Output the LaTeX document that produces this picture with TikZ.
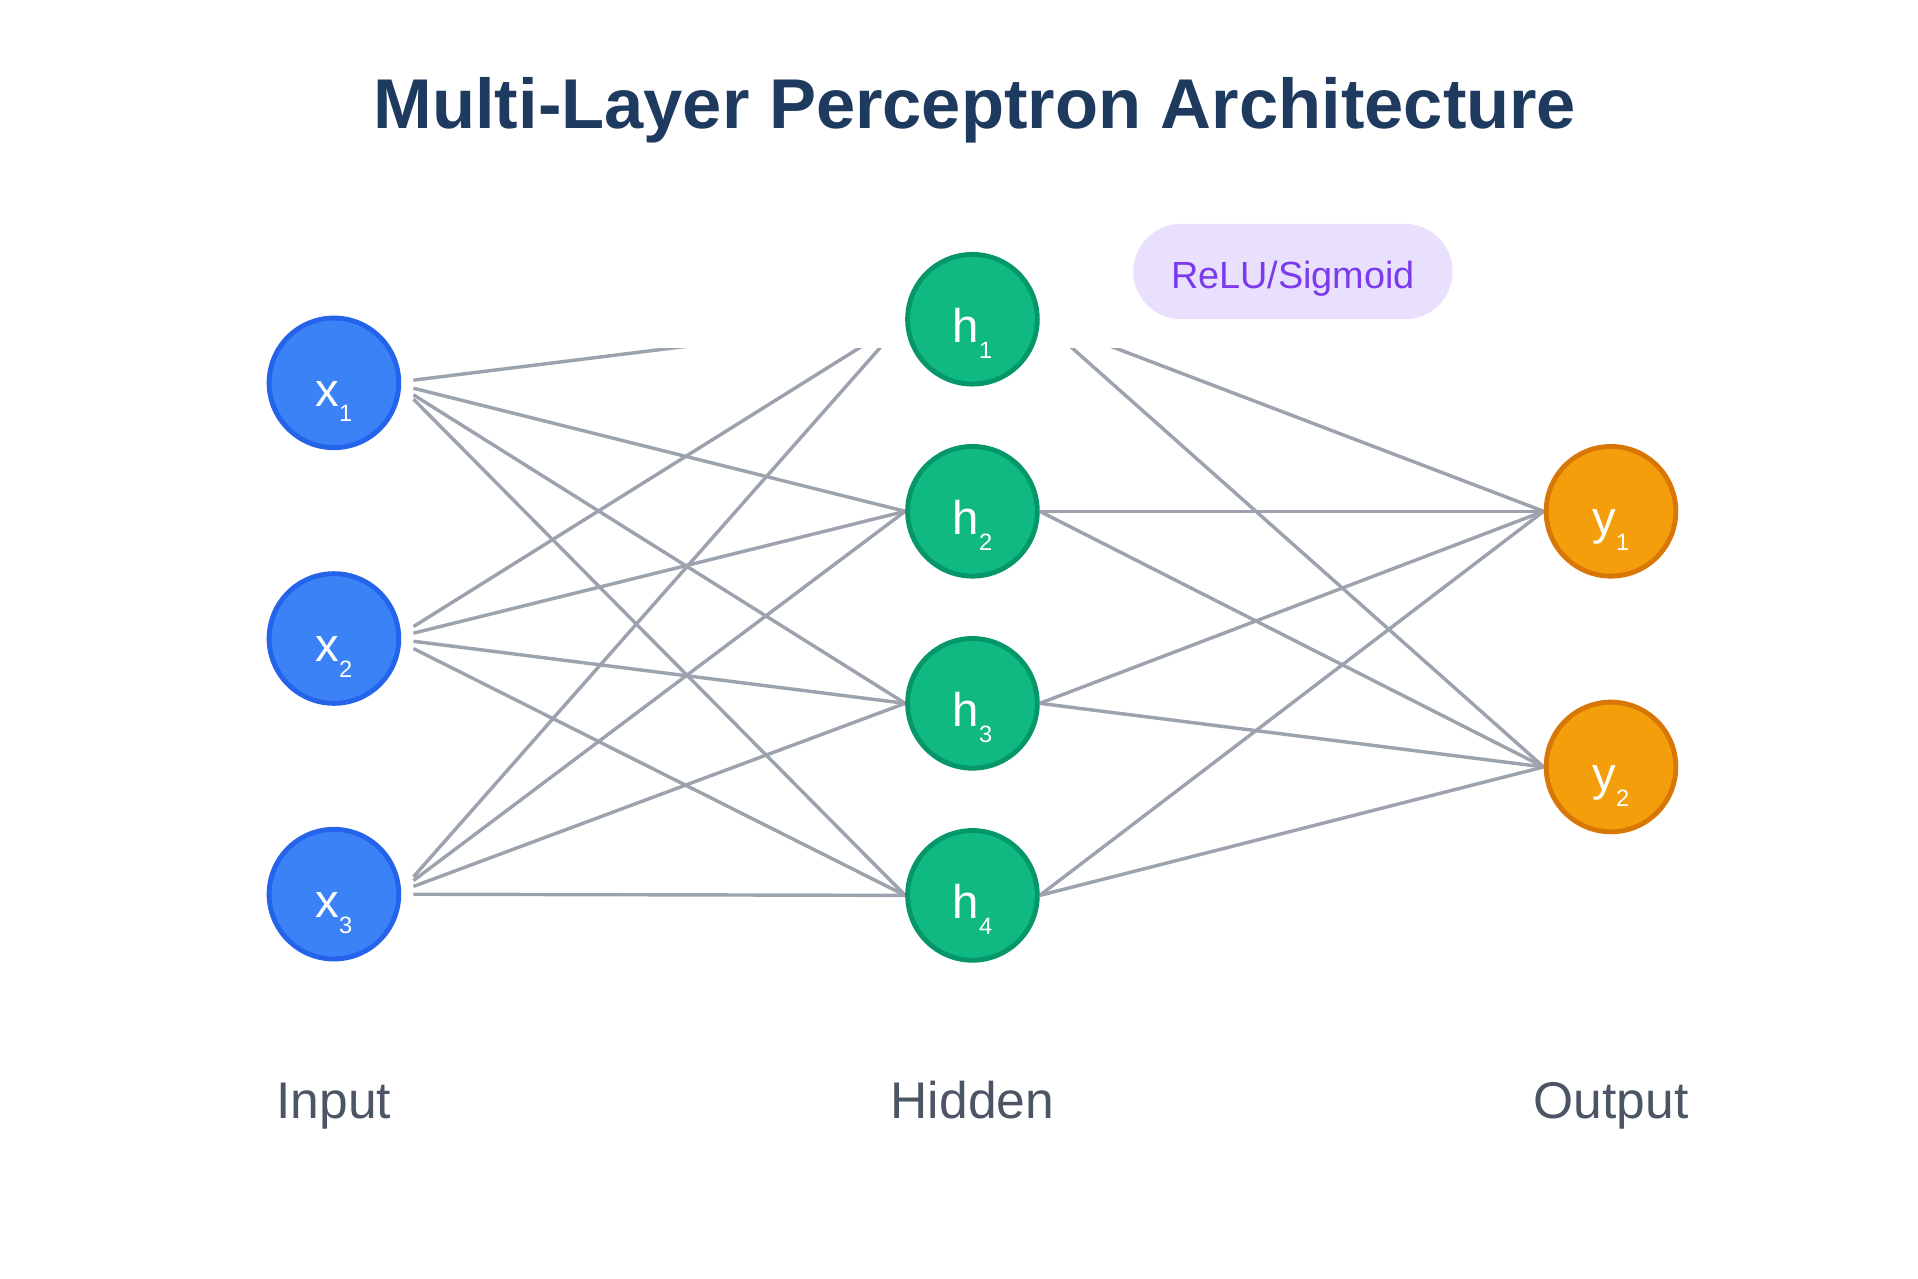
\documentclass[tikz,border=0pt]{standalone}
\usepackage{fontspec}
\setmainfont{Liberation Sans}
\usepackage{xcolor}
\usepackage{tikz}
\usetikzlibrary{positioning, backgrounds, calc}
\definecolor{inblue}{HTML}{3B82F6}
\definecolor{inblueb}{HTML}{2563EB}
\definecolor{hidgreen}{HTML}{10B981}
\definecolor{hidgreenb}{HTML}{059669}
\definecolor{outorange}{HTML}{F59E0B}
\definecolor{outorangeb}{HTML}{D97706}
\definecolor{linkgray}{HTML}{9CA3AF}
\definecolor{titlenavy}{HTML}{1E3A5F}
\definecolor{capgray}{HTML}{4B5563}
\definecolor{actfill}{HTML}{E8E0FD}
\definecolor{acttext}{HTML}{7C3AED}
\newcommand{\nlabel}[2]{#1\raisebox{-0.13cm}{\fontsize{5.5}{5.5}\selectfont #2}}
\tikzstyle{neuron} = [circle, minimum size=1.06cm, inner sep=0pt, line width=0.04cm, text=white, font=\fontsize{11}{11}\selectfont, text height=0.38cm, text depth=0pt]
\tikzstyle{inneuron} = [neuron, draw=inblueb, fill=inblue]
\tikzstyle{hidneuron} = [neuron, draw=hidgreenb, fill=hidgreen]
\tikzstyle{outneuron} = [neuron, draw=outorangeb, fill=outorange]
\tikzstyle{layername} = [anchor=base, text=capgray, font=\fontsize{12}{12}\selectfont]
\tikzstyle{link} = [draw=linkgray, line width=0.8pt]

\begin{document}
\begin{tikzpicture}[node distance=2.09cm]
\useasboundingbox (0,0) rectangle (15.68,10.45);

\node [anchor=base, text=titlenavy, font=\fontsize{16.4}{16.4}\selectfont\bfseries] (title) at (7.97,9.40) {Multi-Layer Perceptron Architecture};

% input layer
\node [inneuron] (x1) at (2.73,7.32) {\nlabel{x}{1}};
\node [inneuron, below of=x1] (x2) {\nlabel{x}{2}};
\node [inneuron, below of=x2] (x3) {\nlabel{x}{3}};

% hidden layer
\node [hidneuron] (h1) at (7.95,7.84) {\nlabel{h}{1}};
\node [hidneuron, below of=h1, node distance=1.57cm] (h2) {\nlabel{h}{2}};
\node [hidneuron, below of=h2, node distance=1.57cm] (h3) {\nlabel{h}{3}};
\node [hidneuron, below of=h3, node distance=1.57cm] (h4) {\nlabel{h}{4}};

% output layer
\node [outneuron, right of=h2, node distance=5.22cm] (y1) {\nlabel{y}{1}};
\node [outneuron, below of=y1] (y2) {\nlabel{y}{2}};

\node [rectangle, rounded corners=0.39cm, fill=actfill, minimum width=2.61cm, minimum height=0.78cm, text height=0.27cm, text depth=0pt, text=acttext, font=\fontsize{8.8}{8.8}\selectfont] (act) at (10.57,8.23) {ReLU/Sigmoid};

\node [layername] (capin) at (2.73,1.31) {Input};
\node [layername] (caphid) at (7.95,1.31) {Hidden};
\node [layername] (capout) at (13.17,1.31) {Output};

\begin{pgfonlayer}{background}
\begin{scope}
\clip (0,0) rectangle (15.68,7.60);
\foreach \i in {1,2,3}
  \foreach \j in {1,...,4} {
    \coordinate (fan) at ($(x\i.center)!0.2cm!(h\j.west)$);
    \draw [link] ([xshift=0.1cm]x\i.east |- fan) -- (h\j.west);
  }
\foreach \j in {1,...,4}
  \foreach \k in {1,2}
    \draw [link] (h\j.east) -- (y\k.west);
\end{scope}
\end{pgfonlayer}
\end{tikzpicture}
\end{document}
